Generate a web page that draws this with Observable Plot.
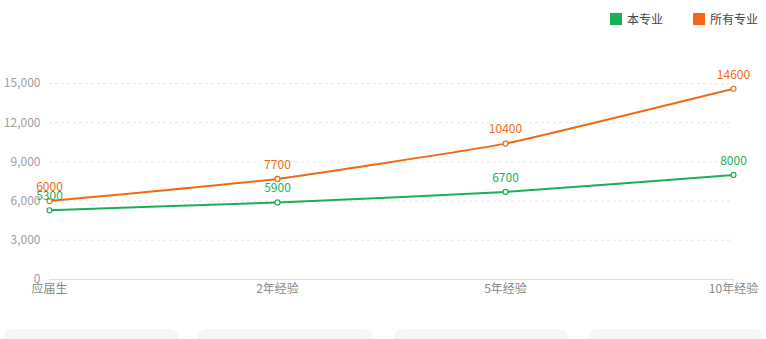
<!DOCTYPE html>
<html><head><meta charset="utf-8">
<script src="https://cdn.jsdelivr.net/npm/d3@7"></script>
<script src="https://cdn.jsdelivr.net/npm/@observablehq/plot@0.6"></script>
<style>
body{margin:0;background:#fff;font-family:"Noto Sans CJK SC","Noto Sans",sans-serif;}
#wrap{position:relative;width:766px;height:339px;overflow:hidden;}
#chart{position:absolute;left:0;top:0;}
.legend{position:absolute;top:10px;font-size:12px;color:#444;display:flex;align-items:center;}
.legend span.sw{display:inline-block;width:12px;height:12px;margin-right:5px;}
.card{position:absolute;top:329px;height:30px;background:#f6f6f6;border-radius:8px;}
</style></head>
<body><div id="wrap"><div id="chart"></div></div>
<script>
const categories = ["应届生","2年经验","5年经验","10年经验"];
const seriesNames = ["本专业","所有专业"];
const majorValues = [5300,5900,6700,8000];
const allValues = [6000,7700,10400,14600];
const yTicks = [0,3000,6000,9000,12000,15000];
const colors = ["#1aaf56","#ef6a12"];

const data = [];
categories.forEach((c,i)=>{
  data.push({cat:c, series:seriesNames[0], value:majorValues[i]});
  data.push({cat:c, series:seriesNames[1], value:allValues[i]});
});

const chart = Plot.plot({
  width:766, height:300,
  marginLeft:49, marginRight:33, marginTop:83, marginBottom:21,
  style:{fontFamily:'"Noto Sans CJK SC","Noto Sans",sans-serif', fontSize:"12px", background:"transparent"},
  x:{type:"point", domain:categories, padding:0, label:null},
  y:{domain:[0,15000], label:null},
  color:{domain:seriesNames, range:colors},
  marks:[
    Plot.ruleY(yTicks.filter(d=>d>0), {stroke:"#e6e6e6", strokeDasharray:"3,3"}),
    Plot.ruleY([0], {stroke:"#e0e0e0"}),
    Plot.axisY({ticks:yTicks, tickFormat:d3.format(","), tickSize:0, tickPadding:9, fill:"#a0a0a0", fontSize:12}),
    Plot.axisX({tickSize:4, stroke:"#e0e0e0", tickPadding:1, fill:"#888", fontSize:12}),
    Plot.line(data, {x:"cat", y:"value", stroke:"series", strokeWidth:2, curve:"cardinal", tension:0.65}),
    Plot.dot(data, {x:"cat", y:"value", stroke:"series", fill:"white", r:2.5, strokeWidth:1.2}),
    Plot.text(data, {x:"cat", y:"value", text:d=>String(d.value), fill:"series", dy:-14, fontSize:12})
  ]
});
document.getElementById("chart").appendChild(chart);

const wrap = document.getElementById("wrap");
const legendPos = [610, 693];
seriesNames.forEach((s,i)=>{
  const el = document.createElement("div");
  el.className="legend";
  el.style.left = legendPos[i]+"px";
  el.innerHTML = `<span class="sw" style="background:${colors[i]}"></span>${s}`;
  wrap.appendChild(el);
});
[[4,174],[198,175],[394,174],[589,174]].forEach(([l,w])=>{
  const c=document.createElement("div"); c.className="card";
  c.style.left=l+"px"; c.style.width=w+"px"; wrap.appendChild(c);
});
</script></body></html>
